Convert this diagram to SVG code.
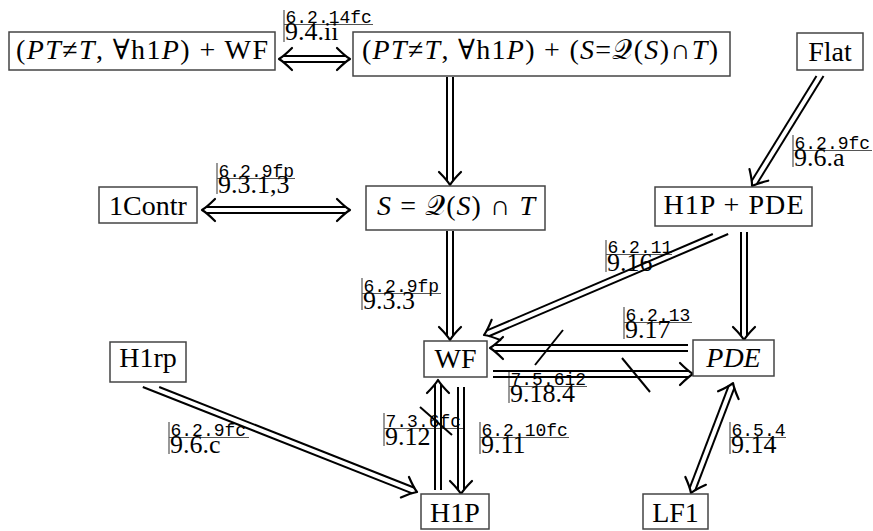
<svg xmlns="http://www.w3.org/2000/svg" xmlns:xlink="http://www.w3.org/1999/xlink" width="873" height="531" viewBox="0 0 873 531">
<style>
.box{fill:#fff;stroke:#444;stroke-width:1.5}
.t{font-family:"Liberation Serif","DejaVu Serif",serif;font-size:28px;fill:#000;text-anchor:middle}
.i{font-style:italic}
.m{font-family:"Liberation Mono","DejaVu Sans Mono",monospace;font-size:18px;fill:#000}
.s{font-family:"Liberation Serif","DejaVu Serif",serif;font-size:26px;fill:#000}
.bar{stroke:#555;stroke-width:1.2;fill:none}
.dl{stroke:#000;stroke-width:2;fill:none}
.sl{stroke:#000;stroke-width:2;fill:none}
</style>
<defs>
<path id="ah" d="M-13,-11 Q-5,-3 0,0 Q-5,3 -13,11" fill="none" stroke="#000" stroke-width="2.2" stroke-linecap="round" stroke-linejoin="round"/>
</defs>
<rect width="873" height="531" fill="#fff"/>

<g id="labels">
<g id="lab1"><path class="bar" d="M284,10V42M284,24.5H373"/><text class="m" x="285.5" y="23">6.2.14fc</text><text class="s" x="285" y="40">9.4.ii</text></g>
<g id="lab2"><path class="bar" d="M793,135V167M793,150.5H872"/><text class="m" x="794.5" y="149">6.2.9fc</text><text class="s" x="794" y="166">9.6.a</text></g>
<g id="lab3"><path class="bar" d="M217,163V194M217,178.5H295"/><text class="m" x="218.5" y="177">6.2.9fp</text><text class="s" x="218" y="193">9.3.1,3</text></g>
<g id="lab4"><path class="bar" d="M362,278V310M362,293.5H441"/><text class="m" x="363.5" y="292">6.2.9fp</text><text class="s" x="363" y="309">9.3.3</text></g>
<g id="lab5"><path class="bar" d="M606,240V272M606,254.5H672"/><text class="m" x="607.5" y="253">6.2.11</text><text class="s" x="607" y="271">9.16</text></g>
<g id="lab6"><path class="bar" d="M624,307V339M624,322.5H692"/><text class="m" x="625.5" y="321">6.2.13</text><text class="s" x="625" y="338">9.17</text></g>
<g id="lab7"><path class="bar" d="M509,370V403M509,386.5H587"/><text class="m" x="510.5" y="385">7.5.6i2</text><text class="s" x="510" y="402">9.18.4</text></g>
<g id="lab8"><path class="bar" d="M169,422V454M169,437.5H249"/><text class="m" x="170.5" y="436">6.2.9fc</text><text class="s" x="170" y="453">9.6.c</text></g>
<g id="lab9"><path class="bar" d="M384,413V446M384,428.5H463"/><text class="m" x="385.5" y="427">7.3.6fc</text><text class="s" x="385" y="445">9.12</text></g>
<g id="lab10"><path class="bar" d="M480,422V454M480,437.5H569"/><text class="m" x="481.5" y="436">6.2.10fc</text><text class="s" x="481" y="453">9.11</text></g>
<g id="lab11"><path class="bar" d="M730,422V454M730,437.5H786"/><text class="m" x="731.5" y="436">6.5.4</text><text class="s" x="731" y="453">9.14</text></g>
</g>

<g id="connectors">
<g id="c1" transform="translate(279,59)"><line class="dl" x1="4" y1="-3" x2="67" y2="-3"/><line class="dl" x1="4" y1="3" x2="67" y2="3"/><use xlink:href="#ah" transform="translate(71,0)"/><use xlink:href="#ah" transform="rotate(180)"/></g>
<g id="c2" transform="translate(450,77) rotate(90)"><line class="dl" x1="0" y1="-3" x2="104" y2="-3"/><line class="dl" x1="0" y1="3" x2="104" y2="3"/><use xlink:href="#ah" transform="translate(108,0)"/></g>
<g id="c3" transform="translate(202,210)"><line class="dl" x1="4" y1="-3" x2="144" y2="-3"/><line class="dl" x1="4" y1="3" x2="144" y2="3"/><use xlink:href="#ah" transform="translate(148,0)"/><use xlink:href="#ah" transform="rotate(180)"/></g>
<g id="c4" transform="translate(820,76) rotate(121.7)"><line class="dl" x1="-1.85" y1="-3" x2="125.3" y2="-3"/><line class="dl" x1="1.85" y1="3" x2="125.3" y2="3"/><use xlink:href="#ah" transform="translate(129.3,0)"/></g>
<g id="c5" transform="translate(450,231) rotate(90)"><line class="dl" x1="0" y1="-3" x2="105" y2="-3"/><line class="dl" x1="0" y1="3" x2="105" y2="3"/><use xlink:href="#ah" transform="translate(109,0)"/></g>
<g id="c6" transform="translate(720.5,234) rotate(156.87)"><line class="dl" x1="-7.05" y1="-3" x2="253.2" y2="-3"/><line class="dl" x1="7.05" y1="3" x2="253.2" y2="3"/><use xlink:href="#ah" transform="translate(257.2,0)"/></g>
<g id="c7" transform="translate(744,232) rotate(90)"><line class="dl" x1="0" y1="-3" x2="104" y2="-3"/><line class="dl" x1="0" y1="3" x2="104" y2="3"/><use xlink:href="#ah" transform="translate(108,0)"/></g>
<g id="c8" transform="translate(688,348) rotate(180)"><line class="dl" x1="0" y1="-3" x2="194" y2="-3"/><line class="dl" x1="0" y1="3" x2="194" y2="3"/><use xlink:href="#ah" transform="translate(198,0)"/></g>
<g id="c9" transform="translate(493,374)"><line class="dl" x1="0" y1="-3" x2="196" y2="-3"/><line class="dl" x1="0" y1="3" x2="196" y2="3"/><use xlink:href="#ah" transform="translate(200,0)"/></g>
<g id="c10" transform="translate(151,387) rotate(21.54)"><line class="dl" x1="7.6" y1="-3" x2="282" y2="-3"/><line class="dl" x1="-7.6" y1="3" x2="282" y2="3"/><use xlink:href="#ah" transform="translate(286,0)"/></g>
<g id="c11a" transform="translate(438,490) rotate(-90)"><line class="dl" x1="0" y1="-3" x2="106" y2="-3"/><line class="dl" x1="0" y1="3" x2="106" y2="3"/><use xlink:href="#ah" transform="translate(110,0)"/></g>
<g id="c11b" transform="translate(461,387) rotate(90)"><line class="dl" x1="0" y1="-3" x2="103" y2="-3"/><line class="dl" x1="0" y1="3" x2="103" y2="3"/><use xlink:href="#ah" transform="translate(107,0)"/></g>
<g id="c12" transform="translate(691,493) rotate(-69.1)"><line class="dl" x1="4" y1="-3" x2="113.7" y2="-3"/><line class="dl" x1="4" y1="3" x2="113.7" y2="3"/><use xlink:href="#ah" transform="translate(117.7,0)"/><use xlink:href="#ah" transform="rotate(180)"/></g>
<line class="sl" x1="563" y1="330" x2="535" y2="365"/>
<line class="sl" x1="622" y1="358" x2="650" y2="392"/>
<line class="sl" x1="420" y1="407" x2="452" y2="435"/>
</g>

<g id="n_pt_wf"><rect class="box" x="9" y="32" width="266" height="38"/><text class="t" x="142" y="59" textLength="252">(<tspan class="i">PT</tspan>≠<tspan class="i">T</tspan>, ∀h1<tspan class="i">P</tspan>) + WF</text></g>
<g id="n_pt_s"><rect class="box" x="353" y="32" width="377" height="44"/><text class="t" x="540" y="59" textLength="356">(<tspan class="i">PT</tspan>≠<tspan class="i">T</tspan>, ∀h1<tspan class="i">P</tspan>) + (<tspan class="i">S</tspan>=𝒬(<tspan class="i">S</tspan>)∩<tspan class="i">T</tspan>)</text></g>
<g id="n_flat"><rect class="box" x="797" y="33" width="66" height="37"/><text class="t" x="830" y="61">Flat</text></g>
<g id="n_1contr"><rect class="box" x="99" y="187" width="98" height="36"/><text class="t" x="148" y="215">1Contr</text></g>
<g id="n_s"><rect class="box" x="366" y="186" width="179" height="44"/><text class="t" x="456" y="215" textLength="158"><tspan class="i">S</tspan> = 𝒬(<tspan class="i">S</tspan>) ∩ <tspan class="i">T</tspan></text></g>
<g id="n_h1p_pde"><rect class="box" x="655" y="187" width="157" height="39"/><text class="t" x="733.5" y="214" textLength="140">H1P + PDE</text></g>
<g id="n_wf"><rect class="box" x="424" y="341" width="63" height="36"/><text class="t" x="455.5" y="368">WF</text></g>
<g id="n_pde"><rect class="box" x="693" y="340" width="81" height="36"/><text class="t i" x="733.5" y="367">PDE</text></g>
<g id="n_h1rp"><rect class="box" x="110" y="342" width="76" height="40"/><text class="t" x="148" y="367">H1rp</text></g>
<g id="n_h1p"><rect class="box" x="421" y="494" width="68" height="35"/><text class="t" x="455" y="522">H1P</text></g>
<g id="n_lf1"><rect class="box" x="643" y="494" width="65" height="35"/><text class="t" x="675.5" y="522">LF1</text></g>
</svg>
